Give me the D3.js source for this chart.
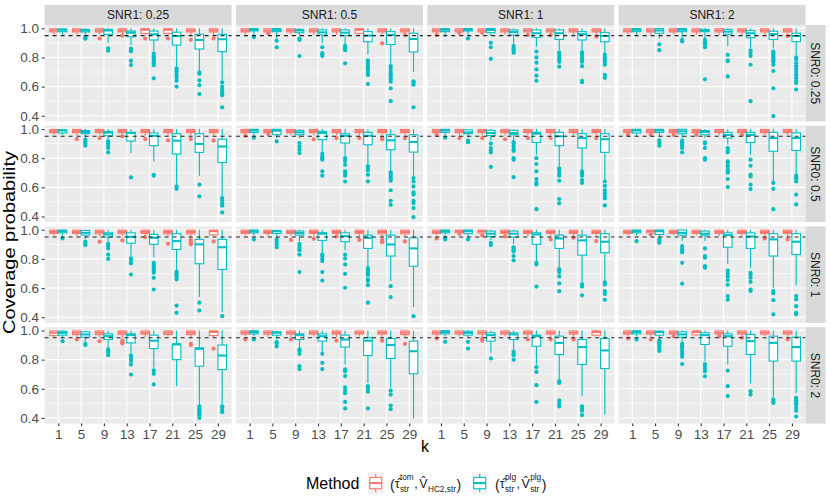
<!DOCTYPE html>
<html><head><meta charset="utf-8">
<script src="https://cdn.jsdelivr.net/npm/d3@7/dist/d3.min.js"></script>
<style>body{margin:0;background:#fff}</style>
</head><body>
<svg id="chart" width="830" height="504"></svg>
<script>
const snr1Levels = ["0.25", "0.5", "1", "2"];
const snr0Levels = ["0.25", "0.5", "1", "2"];
const kValues = [1, 5, 9, 13, 17, 21, 25, 29];
const methodColors = ["#F8766D", "#00BFC4"];
const yTicks = [0.4, 0.6, 0.8, 1.0];
const yMinor = [0.5, 0.7, 0.9];
const nominal = 0.95;

// [SNR0 row][SNR1 col][k] = [lower whisker, Q1, median, Q3, upper whisker]
const plgStats = [
 [
  [[.956,.977,.99,.995,1],[.955,.975,.985,.993,1],[.90,.959,.985,.993,1],[.885,.942,.97,.981,1],[.84,.92,.959,.981,1],[.737,.885,.947,.973,1],[.707,.858,.92,.959,1],[.645,.84,.925,.959,1]],
  [[.954,.982,.99,.998,1],[.93,.977,.989,.998,1],[.95,.97,.985,.993,1],[.897,.954,.972,.989,1],[.89,.95,.97,.989,1],[.82,.908,.95,.977,1],[.744,.889,.954,.977,1],[.70,.838,.927,.966,1]],
  [[.943,.977,.99,.998,1],[.945,.982,.99,.998,1],[.947,.97,.989,.998,1],[.886,.954,.975,.989,1],[.875,.938,.966,.989,1],[.853,.924,.966,.989,1],[.84,.92,.96,.977,1],[.83,.908,.947,.97,1]],
  [[.955,.977,.99,.998,1],[.93,.966,.985,.998,1],[.93,.977,.99,.998,1],[.93,.977,.985,.993,1],[.878,.959,.977,.993,1],[.86,.936,.966,.984,1],[.862,.924,.96,.98,1],[.817,.908,.947,.966,1]]
 ],
 [
  [[.96,.973,.99,.995,1],[.94,.968,.98,.99,1],[.927,.954,.975,.984,1],[.835,.918,.973,.977,1],[.778,.886,.954,.973,1],[.618,.828,.92,.968,1],[.68,.84,.897,.968,1],[.533,.77,.88,.93,1]],
  [[.95,.977,.99,.998,1],[.938,.961,.989,.998,1],[.938,.961,.977,.991,1],[.84,.927,.973,.984,1],[.81,.904,.954,.968,1],[.748,.892,.954,.977,1],[.71,.858,.922,.961,1],[.675,.842,.911,.961,1]],
  [[.955,.977,.99,.998,1],[.94,.968,.977,.995,1],[.922,.956,.973,.991,1],[.922,.961,.973,.991,1],[.824,.908,.968,.977,1],[.744,.886,.95,.977,1],[.716,.87,.938,.968,1],[.648,.84,.93,.968,1]],
  [[.955,.973,.99,.998,1],[.95,.977,.99,.998,1],[.938,.968,.984,.998,1],[.938,.961,.98,.99,1],[.893,.938,.96,.977,1],[.824,.908,.96,.977,1],[.64,.847,.938,.977,1],[.686,.853,.938,.973,1]]
 ],
 [
  [[.955,.979,.99,.998,1],[.938,.963,.979,.995,1],[.918,.95,.968,.979,1],[.82,.908,.952,.979,1],[.812,.90,.945,.968,1],[.72,.865,.922,.973,1],[.538,.767,.90,.934,1],[.437,.728,.88,.934,1]],
  [[.96,.979,.99,.998,1],[.955,.975,.99,.995,1],[.92,.963,.977,.991,1],[.84,.927,.973,.979,1],[.86,.918,.956,.979,1],[.748,.872,.945,.963,1],[.648,.82,.899,.963,1],[.469,.75,.872,.945,1]],
  [[.96,.979,.99,.998,1],[.95,.973,.99,.998,1],[.93,.954,.973,.991,1],[.90,.95,.973,.991,1],[.785,.90,.968,.979,1],[.74,.872,.94,.963,1],[.636,.826,.927,.963,1],[.648,.842,.918,.973,1]],
  [[.96,.979,.99,.998,1],[.945,.968,.99,.998,1],[.922,.963,.979,.998,1],[.922,.963,.973,.991,1],[.767,.88,.963,.979,1],[.74,.872,.954,.979,1],[.60,.82,.934,.973,1],[.62,.83,.918,.973,1]]
 ],
 [
  [[.95,.968,.984,.995,1],[.922,.954,.973,.991,1],[.881,.938,.961,.977,1],[.847,.915,.968,.977,1],[.744,.876,.93,.968,1],[.618,.80,.904,.908,1],[.49,.755,.874,.881,1],[.49,.732,.828,.90,1]],
  [[.96,.977,.99,.998,1],[.94,.968,.985,.991,1],[.881,.938,.968,.977,1],[.847,.927,.961,.977,1],[.767,.886,.938,.968,1],[.64,.828,.93,.95,1],[.606,.808,.90,.945,1],[.396,.703,.858,.927,1]],
  [[.96,.977,.99,.998,1],[.95,.968,.984,.995,1],[.847,.927,.968,.984,1],[.86,.938,.973,.984,1],[.767,.892,.961,.968,1],[.664,.835,.915,.961,1],[.55,.767,.886,.938,1],[.423,.739,.863,.945,1]],
  [[.96,.977,.99,.998,1],[.94,.968,.99,.995,1],[.922,.954,.973,.991,1],[.79,.904,.968,.984,1],[.767,.892,.961,.977,1],[.636,.835,.927,.973,1],[.538,.79,.915,.961,1],[.572,.79,.886,.954,1]]
 ]
];

const plgOutliers = [
 [
  [[],[.942,.932,.929],[.863,.846],[.86,.85,.842,.778,.748],[.826,.81,.8,.79,.775,.76,.747,.657],[.725,.71,.70,.68,.66,.64,.60],[.698,.688,.643,.61,.549],[.63,.60,.58,.565,.555,.54,.458]],
  [[.94],[.915,.87],[.93,.92,.81],[.87,.83,.82,.81],[.88,.87,.86,.85,.76],[.78,.765,.748,.732,.714,.695,.68,.618],[.74,.72,.70,.685,.668,.65,.634,.588,.50],[.636,.625,.613,.458]],
  [[],[.93],[.90,.87,.79],[.878,.862,.85,.833],[.84,.80,.764,.718,.675,.64],[.835,.817,.80,.785,.77,.737],[.835,.82,.80,.786,.77,.74,.64,.63],[.82,.80,.786,.77,.75,.68,.66]],
  [[],[.89,.85],[.92,.91],[.92,.905,.89,.87,.65],[.817,.78,.774,.67],[.847,.83,.81,.75,.50],[.84,.83,.82,.805,.794,.78,.77,.75,.707,.588,.398],[.80,.785,.76,.74,.72,.70,.68,.66,.64,.625,.58]]
 ],
 [
  [[],[.927,.915,.90,.886],[.915,.90,.885,.87,.84],[.668],[.686,.68],[.606,.59],[.618,.538],[.526,.51,.49,.474,.428]],
  [[.94],[.915],[.904,.88,.858,.835],[.83,.81,.80,.79,.71,.68],[.80,.78,.755,.71,.695,.68,.64],[.744,.726,.717,.687,.641],[.703,.69,.675,.66,.645,.58,.508,.48],[.664,.64,.606,.565,.55,.508,.492,.458,.396]],
  [[.94],[.92,.91],[.90,.87,.854,.84,.74],[.91,.90,.88,.86,.85,.80,.79,.67],[.80,.76,.71,.657,.63,.62,.45],[.73,.72,.70,.68,.645,.52,.49],[.71,.695,.68,.65,.63],[.64,.61,.58,.56,.54,.525,.476]],
  [[],[.922,.904,.886],[.92,.91,.90,.89,.88,.87,.84],[.908,.90,.87,.80,.79],[.87,.854,.84,.778,.767,.744,.72,.71,.70,.657,.602],[.79,.748,.687,.675,.618,.588],[.63,.59,.45],[.68,.67,.66,.64,.55,.483]]
 ],
 [
  [[.94],[.918,.904,.895],[.904,.89,.872,.83,.80],[.803,.785,.769,.693],[.773,.76,.745,.73,.72,.705,.67,.59],[.712,.70,.69,.68,.66,.48,.43],[.50,.446],[.407]],
  [[.934],[.934,.92,.90,.88],[.904,.89,.875,.86,.83,.71],[.83,.82,.80,.785,.71,.652],[.83,.803,.762,.698,.602],[.737,.725,.71,.70,.69,.66,.65,.62,.50],[.613,.538],[.407]],
  [[.945,.934],[.934],[.91,.895],[.88,.87,.86,.85,.82,.79],[.773,.762,.61],[.73,.72,.71,.68,.632,.579],[.625,.61,.55],[.64,.625,.58,.56,.52]],
  [[.922],[.934,.922,.91],[.888,.874,.86,.845,.773,.63],[.872,.82,.808,.75,.74],[.72,.70,.68,.655,.622,.545,.52],[.705,.69,.67,.643,.59,.58],[.58,.565,.517,.419],[.545,.522,.476,.43,.42]]
 ],
 [
  [[.927],[.908,.90],[.87,.86,.85,.83],[.83,.82,.80,.79,.767,.698],[.726,.703,.63],[],[.48,.47,.46,.45,.44,.43,.42,.40],[.48,.47,.45,.44]],
  [[.938],[.92,.91,.89],[.87,.86,.84,.755,.735],[.84,.778,.735],[.733,.72,.687,.61,.59,.57,.51,.465],[.618,.60,.58,.465],[.588,.56,.485,.46],[]],
  [[.922],[.922,.876],[.808],[.854,.84,.83,.80],[.748,.716,.625,.51],[.652,.64,.52,.50,.48],[.48,.465,.45,.42],[]],
  [[.938],[.93,.92,.91,.90,.89,.875,.86],[.908,.90,.89,.88,.86,.84,.82,.77],[.77,.76,.74,.72,.686],[.725,.618,.55],[.584,.56],[.526,.515,.503],[.538,.53,.52,.51,.50,.49,.47,.45,.41]]
 ]
];

const tomStats = [
 [
  [[.955,.975,.985,.997,1],[.955,.975,.985,.997,1],[.955,.975,.985,.997,1],[.955,.975,.985,.997,1],[.955,.965,.99,.997,1],[.955,.965,.99,.997,1],[.95,.975,.985,.997,1],[.95,.975,.985,.997,1]],
  [[.958,.975,.985,.997,1],[.955,.975,.985,.997,1],[.955,.975,.985,.997,1],[.955,.975,.985,.997,1],[.955,.975,.985,.997,1],[.955,.965,.99,.997,1],[.95,.975,.985,.997,1],[.955,.975,.985,.997,1]],
  [[.958,.975,.985,.997,1],[.958,.975,.985,.997,1],[.955,.975,.985,.997,1],[.955,.975,.985,.997,1],[.955,.975,.985,.997,1],[.955,.975,.985,.997,1],[.955,.975,.985,.997,1],[.955,.975,.985,.997,1]],
  [[.958,.975,.985,.997,1],[.958,.975,.985,.997,1],[.958,.975,.985,.997,1],[.955,.975,.985,.997,1],[.955,.975,.985,.997,1],[.955,.975,.985,.997,1],[.955,.975,.985,.997,1],[.955,.975,.985,.997,1]]
 ],
 [
  [[.96,.975,.985,.997,1],[.955,.975,.985,.997,1],[.955,.975,.985,.997,1],[.955,.975,.985,.997,1],[.955,.975,.985,.997,1],[.955,.975,.985,.997,1],[.955,.975,.985,.997,1],[.955,.975,.985,.997,1]],
  [[.96,.975,.985,.997,1],[.958,.975,.985,.997,1],[.955,.975,.985,.997,1],[.955,.975,.985,.997,1],[.955,.975,.985,.997,1],[.955,.975,.985,.997,1],[.955,.975,.985,.997,1],[.955,.975,.985,.997,1]],
  [[.962,.975,.985,.997,1],[.955,.975,.985,.997,1],[.955,.975,.985,.997,1],[.955,.975,.985,.997,1],[.955,.975,.985,.997,1],[.955,.975,.985,.997,1],[.955,.975,.985,.997,1],[.955,.975,.985,.997,1]],
  [[.965,.975,.985,.997,1],[.965,.975,.985,.997,1],[.965,.975,.985,.997,1],[.965,.975,.985,.997,1],[.958,.975,.985,.997,1],[.965,.975,.985,.997,1],[.958,.975,.985,.997,1],[.958,.975,.985,.997,1]]
 ],
 [
  [[.96,.975,.985,.997,1],[.958,.975,.985,.997,1],[.955,.972,.985,.997,1],[.955,.972,.985,.997,1],[.958,.975,.985,.997,1],[.955,.972,.985,.997,1],[.95,.972,.985,.997,1],[.955,.965,.99,.997,1]],
  [[.96,.975,.985,.997,1],[.958,.975,.985,.997,1],[.955,.975,.985,.997,1],[.955,.975,.985,.997,1],[.958,.975,.985,.997,1],[.955,.975,.985,.997,1],[.95,.972,.985,.997,1],[.955,.972,.985,.997,1]],
  [[.962,.975,.985,.997,1],[.975,.98,.99,.997,1],[.97,.978,.99,.997,1],[.96,.975,.985,.997,1],[.958,.975,.985,.997,1],[.955,.975,.985,.997,1],[.955,.975,.985,.997,1],[.955,.975,.985,.997,1]],
  [[.962,.975,.985,.997,1],[.97,.978,.99,.997,1],[.962,.975,.985,.997,1],[.962,.975,.985,.997,1],[.958,.975,.985,.997,1],[.958,.975,.985,.997,1],[.955,.975,.985,.997,1],[.955,.975,.985,.997,1]]
 ],
 [
  [[.955,.965,.985,.997,1],[.955,.972,.985,.997,1],[.955,.972,.985,.997,1],[.95,.972,.985,.997,1],[.955,.975,.985,.997,1],[.958,.972,.985,.997,1],[.95,.972,.985,.997,1],[.955,.965,.99,.997,1]],
  [[.958,.975,.985,.997,1],[.958,.975,.985,.997,1],[.955,.975,.985,.997,1],[.958,.975,.985,.997,1],[.955,.975,.985,.997,1],[.958,.975,.985,.997,1],[.955,.975,.985,.997,1],[.955,.972,.985,.997,1]],
  [[.958,.975,.985,.997,1],[.96,.975,.985,.997,1],[.955,.975,.985,.997,1],[.96,.975,.985,.997,1],[.955,.975,.985,.997,1],[.955,.975,.985,.997,1],[.955,.975,.985,.997,1],[.96,.968,.99,.997,1]],
  [[.958,.975,.985,.997,1],[.955,.975,.985,.997,1],[.962,.975,.985,.997,1],[.965,.97,.99,.997,1],[.962,.975,.985,.997,1],[.958,.975,.985,.997,1],[.96,.975,.985,.997,1],[.955,.975,.985,.997,1]]
 ]
];

const tomOutliers = [
 [
  [[],[],[.93],[.95],[.93],[.93],[.92],[.93]],
  [[],[.966],[],[],[],[],[.897],[.954]],
  [[.954],[.97],[.97],[],[.954],[.954],[],[.943]],
  [[],[],[],[],[],[],[],[.947]]
 ],
 [
  [[],[.931],[.938],[.95],[.931],[.922],[.931],[.922]],
  [[.954],[.968],[],[.93],[.938],[.938],[.938,.93],[.938]],
  [[.96],[.938],[.938],[.93],[.938],[.938],[],[.938]],
  [[.96],[.96],[.96],[.96],[],[.96],[],[]]
 ],
 [
  [[],[],[.918],[.927],[.95],[.904],[.93,.92,.91,.90],[.92]],
  [[],[],[.93],[.938],[.954],[.93],[.93,.925,.92,.915],[.92]],
  [[.94],[.973],[.963],[.954],[],[.934],[.945],[.922]],
  [[],[.968],[],[],[],[],[.94],[.934]]
 ],
 [
  [[],[.938],[.927],[.93,.92,.91],[],[],[.908,.90],[.876]],
  [[.938],[],[.938],[],[.93],[],[.93],[.908]],
  [[.945],[],[.945,.93],[],[.938],[.938],[.938],[]],
  [[.945],[.938],[.96],[],[.96],[.95],[],[.938]]
 ]
];

const FONT = "'Liberation Sans', Arial, Helvetica, sans-serif";
const svg = d3.select("#chart");
svg.append("rect").attr("width", 830).attr("height", 504).attr("fill", "#fff");

const panelW = 187, panelH = 96.4, gap = 4.33, left0 = 44.6, top0 = 25, stripH = 20;
const x = d3.scalePoint().domain(kValues).range([0, panelW]).padding(0.6);
const y = d3.scaleLinear().domain([0.3613, 1.0226]).range([panelH, 0]);
const step = x.step();
const boxW = step * 0.375;
const statsByMethod = [tomStats, plgStats];
const outByMethod = [tomOutliers, plgOutliers];

snr0Levels.forEach((s0, r) => {
  snr1Levels.forEach((s1, c) => {
    const px = left0 + c * (panelW + gap), py = top0 + r * (panelH + gap);
    const g = svg.append("g").attr("transform", `translate(${px},${py})`);
    g.append("rect").attr("width", panelW).attr("height", panelH).attr("fill", "#EBEBEB");
    g.selectAll(".ymin").data(yMinor).enter().append("line")
      .attr("x1", 0).attr("x2", panelW).attr("y1", d => y(d)).attr("y2", d => y(d))
      .attr("stroke", "#fff").attr("stroke-width", 0.55);
    g.selectAll(".ymaj").data(yTicks).enter().append("line")
      .attr("x1", 0).attr("x2", panelW).attr("y1", d => y(d)).attr("y2", d => y(d))
      .attr("stroke", "#fff").attr("stroke-width", 1.1);
    g.selectAll(".xmaj").data(kValues).enter().append("line")
      .attr("x1", d => x(d)).attr("x2", d => x(d)).attr("y1", 0).attr("y2", panelH)
      .attr("stroke", "#fff").attr("stroke-width", 1.1);

    kValues.forEach((k, ki) => {
      [0, 1].forEach(m => {
        const st = statsByMethod[m][r][c][ki];
        const outs = outByMethod[m][r][c][ki];
        const col = methodColors[m];
        const cx = x(k) + (m === 0 ? -1 : 1) * boxW / 2;
        const bg = g.append("g");
        bg.selectAll("circle").data(outs).enter().append("circle")
          .attr("cx", cx).attr("cy", d => y(d)).attr("r", 2.1).attr("fill", col);
        bg.append("line").attr("x1", cx).attr("x2", cx).attr("y1", y(st[4])).attr("y2", y(st[3]))
          .attr("stroke", col).attr("stroke-width", 1.1);
        bg.append("line").attr("x1", cx).attr("x2", cx).attr("y1", y(st[1])).attr("y2", y(st[0]))
          .attr("stroke", col).attr("stroke-width", 1.1);
        bg.append("rect").attr("x", cx - boxW / 2).attr("width", boxW)
          .attr("y", y(st[3])).attr("height", y(st[1]) - y(st[3]))
          .attr("fill", "#fff").attr("stroke", col).attr("stroke-width", 1.1);
        bg.append("line").attr("x1", cx - boxW / 2).attr("x2", cx + boxW / 2)
          .attr("y1", y(st[2])).attr("y2", y(st[2]))
          .attr("stroke", col).attr("stroke-width", 2.1);
      });
    });

    g.append("line").attr("x1", 0).attr("x2", panelW).attr("y1", y(nominal)).attr("y2", y(nominal))
      .attr("stroke", "#000").attr("stroke-width", 1.1).attr("stroke-dasharray", "4,4").attr("opacity", 0.85);

    if (c === 0) {
      const ax = g.append("g").call(d3.axisLeft(y).tickValues(yTicks).tickFormat(d3.format(".1f")).tickSize(2.7).tickPadding(2.8));
      ax.select(".domain").remove();
      ax.attr("font-family", FONT).attr("font-size", 13.5);
      ax.selectAll("line").attr("stroke", "#333").attr("stroke-width", 1.1);
      ax.selectAll("text").attr("fill", "#4D4D4D");
    }
    if (r === snr0Levels.length - 1) {
      const ax = g.append("g").attr("transform", `translate(0,${panelH})`)
        .call(d3.axisBottom(x).tickSize(2.7).tickPadding(2.8));
      ax.select(".domain").remove();
      ax.attr("font-family", FONT).attr("font-size", 13.5);
      ax.selectAll("line").attr("stroke", "#333").attr("stroke-width", 1.1);
      ax.selectAll("text").attr("fill", "#4D4D4D");
    }
    if (r === 0) {
      svg.append("rect").attr("x", px).attr("y", top0 - stripH).attr("width", panelW).attr("height", stripH).attr("fill", "#D9D9D9");
      svg.append("text").attr("x", px + panelW / 2).attr("y", top0 - stripH / 2 + 4.3)
        .attr("text-anchor", "middle").attr("font-family", FONT).attr("font-size", 12).attr("fill", "#1A1A1A")
        .text("SNR1: " + s1);
    }
    if (c === snr1Levels.length - 1) {
      const sx = px + panelW;
      svg.append("rect").attr("x", sx).attr("y", py).attr("width", stripH).attr("height", panelH).attr("fill", "#D9D9D9");
      svg.append("text").attr("transform", `translate(${sx + stripH / 2},${py + panelH / 2}) rotate(90)`)
        .attr("y", 4.3).attr("text-anchor", "middle").attr("font-family", FONT).attr("font-size", 12).attr("fill", "#1A1A1A")
        .text("SNR0: " + s0);
    }
  });
});

// axis titles
svg.append("text").attr("transform", "translate(15,242.5) rotate(-90)")
  .attr("text-anchor", "middle").attr("font-family", FONT).attr("font-size", 16).attr("fill", "#000")
  .attr("textLength", 183).attr("lengthAdjust", "spacingAndGlyphs")
  .text("Coverage probability");
svg.append("text").attr("x", 425.1).attr("y", 452).attr("text-anchor", "middle")
  .attr("font-family", FONT).attr("font-size", 16).attr("fill", "#000").text("k");

// legend
svg.append("text").attr("x", 306).attr("y", 489).attr("font-family", FONT).attr("font-size", 16).attr("fill", "#000").text("Method");

function legendKey(x0, col) {
  const kg = svg.append("g").attr("transform", `translate(${x0},471.7)`);
  const w = 16, h = 22.7;
  kg.append("rect").attr("width", w).attr("height", h).attr("fill", "#F2F2F2");
  kg.append("line").attr("x1", w / 2).attr("x2", w / 2).attr("y1", h * 0.1).attr("y2", h * 0.25).attr("stroke", col).attr("stroke-width", 1.1);
  kg.append("line").attr("x1", w / 2).attr("x2", w / 2).attr("y1", h * 0.75).attr("y2", h * 0.9).attr("stroke", col).attr("stroke-width", 1.1);
  kg.append("rect").attr("x", w * 0.125).attr("width", w * 0.75).attr("y", h * 0.25).attr("height", h * 0.5)
    .attr("fill", "#fff").attr("stroke", col).attr("stroke-width", 1.1);
  kg.append("line").attr("x1", w * 0.125).attr("x2", w * 0.875).attr("y1", h * 0.5).attr("y2", h * 0.5).attr("stroke", col).attr("stroke-width", 2.1);
}

function mathLabel(x0, items) {
  const base = 488.3;
  let cx = x0;
  const lg = svg.append("g").attr("font-family", FONT).attr("fill", "#1A1A1A");
  items.forEach(it => {
    const fs = it.paren ? 14 : 12.5;
    const t = lg.append("text").attr("x", cx).attr("y", it.paren ? base + 1.5 : base).attr("font-size", fs)
      .text(it.hat ? it.t + "\u0302" : it.t);
    const w = t.node().getComputedTextLength();
    cx += w;
    let sw = 0;
    if (it.sup) {
      const s = lg.append("text").attr("x", cx + 0.3).attr("y", 480.3).attr("font-size", 8.3).text(it.sup);
      sw = Math.max(sw, s.node().getComputedTextLength());
    }
    if (it.sub) {
      const s = lg.append("text").attr("x", cx + 0.3).attr("y", 491.8).attr("font-size", 8.3).text(it.sub);
      sw = Math.max(sw, s.node().getComputedTextLength());
    }
    cx += sw + (sw ? 0.8 : 0) + (it.t === "," ? 1.5 : 0);
  });
}

legendKey(367.7, methodColors[0]);
mathLabel(390, [{t: "(", paren: true}, {t: "τ", hat: true, sup: "tom", sub: "str"}, {t: ","}, {t: "V", hat: true, sub: "HC2,str"}, {t: ")", paren: true}]);
legendKey(471.7, methodColors[1]);
mathLabel(495, [{t: "(", paren: true}, {t: "τ", hat: true, sup: "plg", sub: "str"}, {t: ","}, {t: "V", hat: true, sup: "plg", sub: "str"}, {t: ")", paren: true}]);
</script>
</body></html>
